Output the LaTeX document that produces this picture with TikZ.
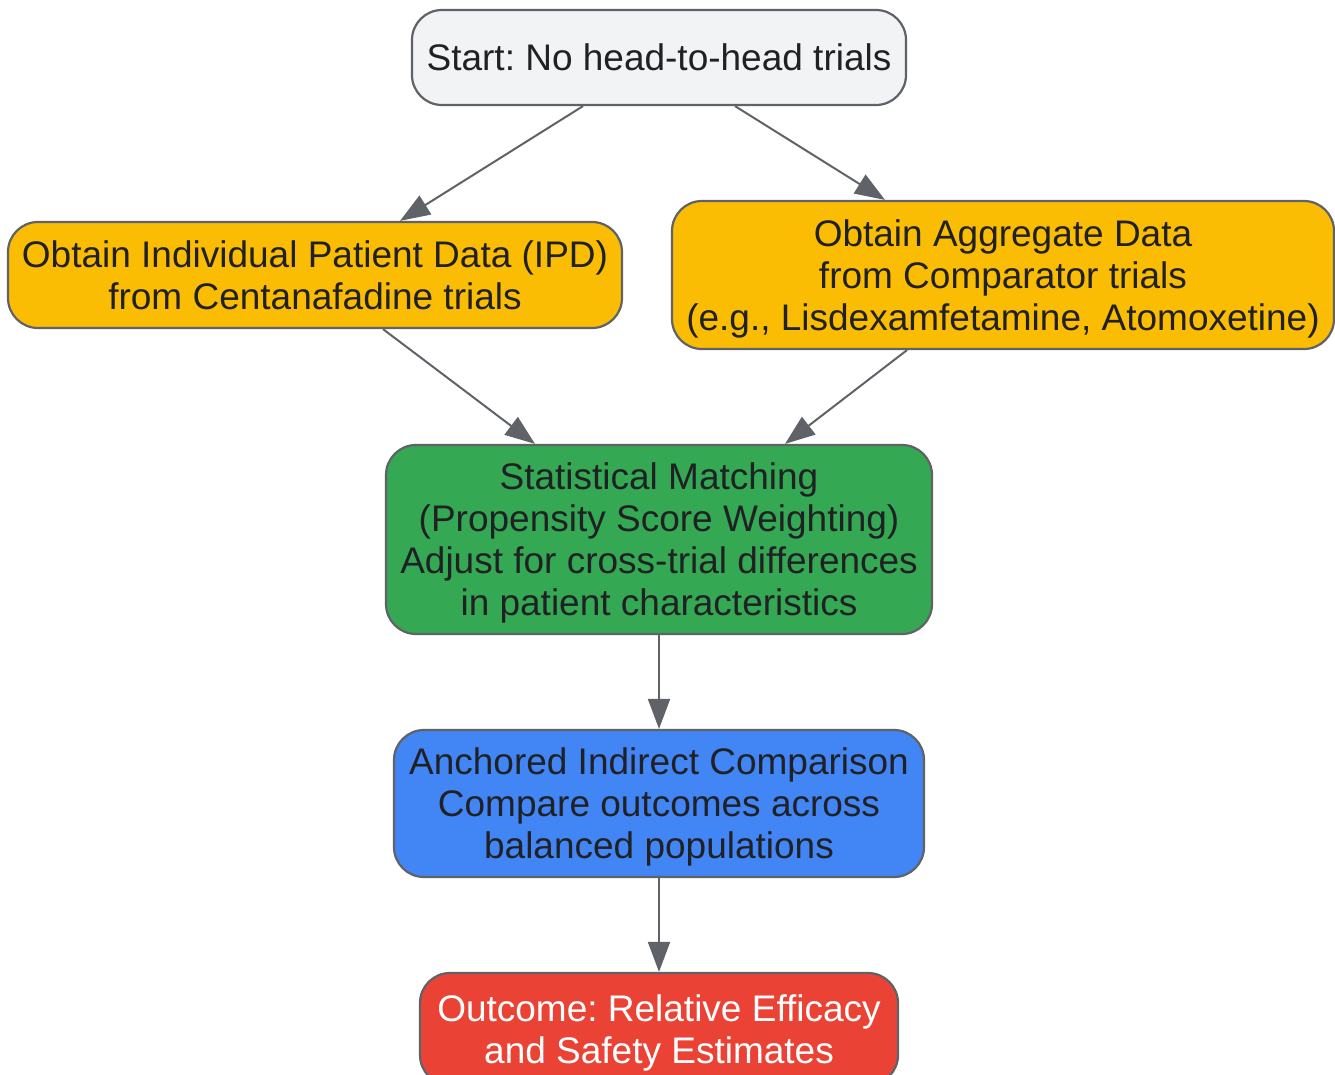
\documentclass[tikz,border=0pt]{standalone}
\usepackage{fontspec}
\setmainfont{Liberation Sans}
\frenchspacing
\usetikzlibrary{arrows.meta}
\definecolor{edgegray}{HTML}{5F6368}
\definecolor{textdark}{HTML}{202124}
\definecolor{startgray}{HTML}{F1F3F4}
\definecolor{dataamber}{HTML}{FBBC04}
\definecolor{matchgreen}{HTML}{34A853}
\definecolor{compblue}{HTML}{4285F4}
\definecolor{outred}{HTML}{EA4335}

\begin{document}
\begin{tikzpicture}[x=1pt,y=-1pt,
    box/.style={draw=edgegray, line width=2.2pt, rounded corners=30pt, align=center,
        inner sep=0pt, text depth=0pt, text=textdark, font=\fontsize{37}{42}\selectfont},
    link/.style={draw=edgegray, line width=2pt, -{Triangle[length=30pt,width=22pt]}}]
    \useasboundingbox (0,0) rectangle (1335,1075);
    % boxes
    \node[box, fill=startgray, minimum width=494pt, minimum height=95pt] (start) at (659,57.5)
        {Start: No head-to-head trials};
    \node[box, fill=dataamber, minimum width=614pt, minimum height=106pt] (ipd) at (315,275)
        {Obtain Individual Patient Data (IPD)\\from Centanafadine trials};
    \node[box, fill=dataamber, minimum width=662pt, minimum height=148pt] (agg) at (1003,275)
        {Obtain Aggregate Data\\from Comparator trials\\(e.g., Lisdexamfetamine, Atomoxetine)};
    \node[box, fill=matchgreen, minimum width=546pt, minimum height=189pt] (match) at (659,539.5)
        {Statistical Matching\\(Propensity Score Weighting)\\Adjust for cross-trial differences\\in patient characteristics};
    \node[box, fill=compblue, minimum width=530pt, minimum height=147pt] (anchored) at (659,803.5)
        {Anchored Indirect Comparison\\Compare outcomes across\\balanced populations};
    \node[box, fill=outred, text=white, minimum width=478pt, minimum height=112pt] (outcome) at (659,1029)
        {Outcome: Relative Efficacy\\and Safety Estimates};
    % links
    \draw[link] ([xshift=-76pt]start.south) -- ([xshift=85pt]ipd.north);
    \draw[link] ([xshift=76pt]start.south) -- ([xshift=-118pt]agg.north);
    \draw[link] ([xshift=68pt]ipd.south) -- ([xshift=-124pt]match.north);
    \draw[link] ([xshift=-96pt]agg.south) -- ([xshift=126pt]match.north);
    \draw[link] (match) -- (anchored);
    \draw[link] (anchored) -- (outcome);
\end{tikzpicture}
\end{document}
